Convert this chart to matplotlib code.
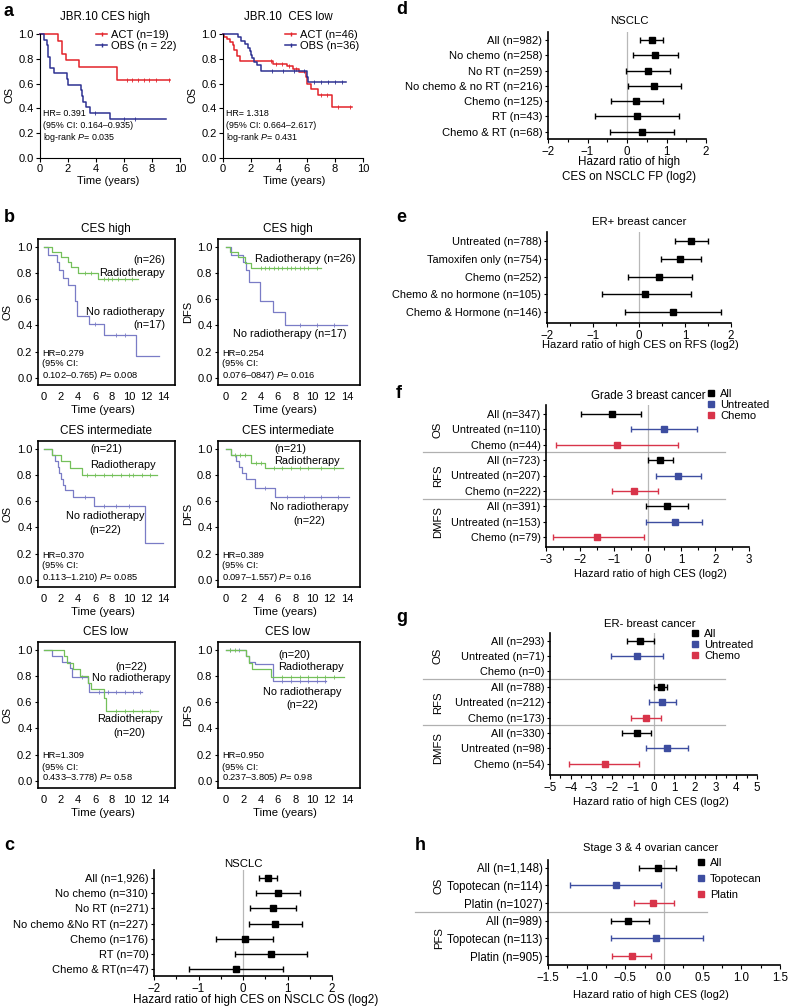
import numpy as np
import matplotlib.pyplot as plt
from matplotlib.lines import Line2D
from matplotlib.transforms import blended_transform_factory

plt.rcParams['font.family'] = ['Liberation Sans', 'DejaVu Sans']
plt.rcParams['mathtext.fontset'] = 'custom'
plt.rcParams['mathtext.rm'] = 'Liberation Sans'
plt.rcParams['mathtext.it'] = 'Liberation Sans:italic'

# ---------------- data ----------------
# a: JBR.10 Kaplan-Meier (time, survival after step) + censor times
act_hi_t = [0, 1.3, 1.6, 1.85, 2.8, 5.5, 9.3]
act_hi_s = [1.0, 0.947, 0.842, 0.789, 0.737, 0.63, 0.63]
act_hi_c = [6.2, 6.6, 7.0, 7.4, 7.8, 8.3, 9.2]
obs_hi_t = [0, 0.3, 0.5, 0.6, 0.7, 1.0, 1.9, 2.0, 2.9, 3.0, 3.1, 3.3, 3.6, 5.0, 9.0]
obs_hi_s = [1.0, 0.955, 0.909, 0.818, 0.727, 0.682, 0.636, 0.591, 0.545, 0.5, 0.455, 0.409,
            0.364, 0.318, 0.318]
obs_hi_c = [3.9, 6.0, 6.8]

act_lo_t = [0, 0.1, 0.3, 0.5, 0.7, 0.8, 1.0, 1.2, 3.6, 4.6, 5.0, 5.4, 5.9, 6.0, 6.3, 6.8, 7.8, 9.2]
act_lo_s = [1.0, 0.978, 0.957, 0.935, 0.913, 0.870, 0.826, 0.783, 0.761, 0.739, 0.717, 0.696,
            0.65, 0.60, 0.56, 0.51, 0.41, 0.41]
act_lo_c = [3.4, 3.8, 4.2, 4.7, 5.2, 7.0, 7.4, 8.2, 9.1]
obs_lo_t = [0, 1.1, 1.3, 1.6, 1.8, 1.9, 2.0, 2.1, 2.2, 2.4, 2.7, 6.0, 6.1, 8.8]
obs_lo_s = [1.0, 0.972, 0.944, 0.917, 0.889, 0.861, 0.833, 0.806, 0.778, 0.75, 0.70, 0.65, 0.61, 0.61]
obs_lo_c = [3.5, 4.3, 5.1, 5.8, 6.5, 7.0, 7.5, 8.0, 8.5]

# b: radiotherapy KM curves (rt = radiotherapy, nrt = no radiotherapy)
rt_os_hi_t = [0, 1.0, 2.0, 2.8, 3.2, 4.0, 6.4, 11.0]
rt_os_hi_s = [1.0, 0.962, 0.923, 0.885, 0.846, 0.80, 0.755, 0.755]
rt_os_hi_c = [4.8, 5.5, 7.0, 7.5, 8.0, 8.7, 9.5, 10.3]
nrt_os_hi_t = [0, 0.5, 1.5, 1.8, 2.2, 2.8, 3.6, 3.9, 5.3, 7.0, 10.8, 13.5]
nrt_os_hi_s = [1.0, 0.941, 0.882, 0.824, 0.765, 0.706, 0.588, 0.471, 0.412, 0.33, 0.165, 0.165]
nrt_os_hi_c = [6.0, 8.5, 9.5]

rt_dfs_hi_t = [0, 0.5, 1.4, 2.2, 2.9, 11.0]
rt_dfs_hi_s = [1.0, 0.96, 0.92, 0.88, 0.84, 0.84]
rt_dfs_hi_c = [4.0, 4.5, 5.0, 5.5, 6.0, 6.5, 7.0, 7.5, 8.0, 8.5, 9.0, 9.5, 10.5]
nrt_dfs_hi_t = [0, 0.6, 2.0, 2.3, 2.6, 3.9, 5.4, 6.8, 14.0]
nrt_dfs_hi_s = [1.0, 0.941, 0.882, 0.824, 0.735, 0.59, 0.50, 0.40, 0.40]
nrt_dfs_hi_c = [8.5, 10.5, 12.5]

rt_os_mid_t = [0, 0.9, 2.0, 3.1, 4.5, 13.3]
rt_os_mid_s = [1.0, 0.952, 0.905, 0.857, 0.80, 0.80]
rt_os_mid_c = [5, 6, 7, 8, 9, 10, 10.5, 11.5, 12.5]
nrt_os_mid_t = [0, 0.9, 1.3, 1.6, 1.8, 2.0, 2.2, 2.5, 3.4, 5.9, 11.9, 14.0]
nrt_os_mid_s = [1.0, 0.955, 0.909, 0.864, 0.818, 0.773, 0.727, 0.682, 0.636, 0.565, 0.28, 0.28]
nrt_os_mid_c = [4.8, 7.0, 8.5, 10.0]

rt_dfs_mid_t = [0, 0.6, 2.9, 4.5, 13.5]
rt_dfs_mid_s = [1.0, 0.952, 0.895, 0.85, 0.85]
rt_dfs_mid_c = [1.0, 1.6, 2.2, 3.5, 4.0, 5.5, 6.5, 7.5, 8.5, 9.5, 11, 12.5]
nrt_dfs_mid_t = [0, 0.6, 1.1, 1.5, 1.8, 2.3, 3.3, 5.7, 14.2]
nrt_dfs_mid_s = [1.0, 0.955, 0.909, 0.864, 0.818, 0.773, 0.70, 0.636, 0.636]
nrt_dfs_mid_c = [4.5, 7.0, 9.0, 11.0, 13.0]

rt_os_lo_t = [0, 2.4, 2.7, 3.4, 4.2, 5.2, 5.5, 7.0, 7.3, 13.4]
rt_os_lo_s = [1.0, 0.95, 0.90, 0.85, 0.80, 0.75, 0.70, 0.63, 0.53, 0.53]
rt_os_lo_c = [8.5, 9.5, 10.5, 11.5, 12.5]
nrt_os_lo_t = [0, 1.0, 2.1, 3.1, 3.3, 5.2, 5.3, 11.5]
nrt_os_lo_s = [1.0, 0.955, 0.909, 0.864, 0.795, 0.75, 0.68, 0.68]
nrt_os_lo_c = [4.5, 6.5, 7.5, 8.5, 9.5, 10.5, 11.3]

rt_dfs_lo_t = [0, 2.3, 2.6, 3.0, 5.2, 13.7]
rt_dfs_lo_s = [1.0, 0.95, 0.90, 0.85, 0.79, 0.79]
rt_dfs_lo_c = [0.5, 1.0, 6.5, 7.5, 8.5, 9.5, 10.5, 11.5, 12.5]
nrt_dfs_lo_t = [0, 2.3, 2.7, 3.3, 5.4, 11.6]
nrt_dfs_lo_s = [1.0, 0.955, 0.909, 0.89, 0.76, 0.76]
nrt_dfs_lo_c = [0.5, 1.5, 6.5, 7.5, 8.5, 9.5, 10.5, 11.5]

# c-h: forest plots, log2 hazard ratio and 95% CI
c_labels = ['All (n=1,926)', 'No chemo (n=310)', 'No RT (n=271)', 'No chemo &No RT (n=227)',
            'Chemo (n=176)', 'RT (n=70)', 'Chemo & RT(n=47)']
c_hr = [0.57, 0.78, 0.68, 0.73, 0.05, 0.63, -0.16]
c_lo = [0.37, 0.29, 0.15, 0.13, -0.61, -0.17, -1.22]
c_hi = [0.77, 1.29, 1.20, 1.32, 0.68, 1.43, 0.89]

d_labels = ['All (n=982)', 'No chemo (n=258)', 'No RT (n=259)', 'No chemo & no RT (n=216)',
            'Chemo (n=125)', 'RT (n=43)', 'Chemo & RT (n=68)']
d_hr = [0.64, 0.72, 0.53, 0.69, 0.24, 0.26, 0.38]
d_lo = [0.34, 0.15, -0.03, 0.03, -0.40, -0.80, -0.43]
d_hi = [0.92, 1.29, 1.10, 1.36, 0.90, 1.32, 1.19]

e_labels = ['Untreated (n=788)', 'Tamoxifen only (n=754)', 'Chemo (n=252)',
            'Chemo & no hormone (n=105)', 'Chemo & Hormone (n=146)']
e_hr = [1.13, 0.89, 0.44, 0.14, 0.73]
e_lo = [0.78, 0.47, -0.25, -0.81, -0.30]
e_hi = [1.49, 1.34, 1.16, 1.12, 1.78]

f_labels = ['All (n=347)', 'Untreated (n=110)', 'Chemo (n=44)', 'All (n=723)', 'Untreated (n=207)',
            'Chemo (n=222)', 'All (n=391)', 'Untreated (n=153)', 'Chemo (n=79)']
f_hr = [-1.06, 0.49, -0.89, 0.38, 0.91, -0.39, 0.58, 0.80, -1.48]
f_lo = [-1.97, -0.50, -2.70, 0.00, 0.25, -1.06, -0.03, -0.03, -2.80]
f_hi = [-0.20, 1.47, 0.91, 0.76, 1.58, 0.30, 1.19, 1.62, -0.10]

g_labels = ['All (n=293)', 'Untreated (n=71)', 'Chemo (n=0)', 'All (n=788)', 'Untreated (n=212)',
            'Chemo (n=173)', 'All (n=330)', 'Untreated (n=98)', 'Chemo (n=54)']
g_hr = [-0.66, -0.79, np.nan, 0.34, 0.43, -0.37, -0.82, 0.63, -2.33]
g_lo = [-1.30, -2.03, np.nan, 0.03, -0.21, -1.09, -1.50, -0.37, -4.07]
g_hi = [0.00, 0.47, np.nan, 0.66, 1.11, 0.34, -0.13, 1.66, -0.72]

h_labels = ['All (n=1,148)', 'Topotecan (n=114)', 'Platin (n=1027)', 'All (n=989)',
            'Topotecan (n=113)', 'Platin (n=905)']
h_hr = [-0.08, -0.62, -0.14, -0.46, -0.10, -0.41]
h_lo = [-0.32, -1.22, -0.39, -0.68, -0.68, -0.67]
h_hi = [0.16, -0.04, 0.13, -0.20, 0.51, -0.17]

# ---------------- figure ----------------
W, H = 788, 1008
fig = plt.figure(figsize=(W / 100, H / 100), dpi=100)

RED, NAVY = '#e3232a', '#2e3192'
GREEN, LAV = '#74c05a', '#7a7cc6'
BLK, BLUE, PINK = '#000000', '#3d4da0', '#d8344a'


def px_ax(l, t, r, b):
    return fig.add_axes([l / W, 1 - b / H, (r - l) / W, (b - t) / H])


def txt(x, y, s, size=7.5, ha='center', **kw):
    fig.text(x / W, 1 - y / H, s, fontsize=size, ha=ha, va='center', **kw)


def minus(v, fmt):
    return (fmt % v).replace('-', '\u2212')


def km(ax, t, s, cens, color, lw):
    t = np.asarray(t, float)
    s = np.asarray(s, float)
    ax.step(t, s, where='post', color=color, lw=lw, clip_on=False)
    idx = np.searchsorted(t, cens, side='right') - 1
    ax.plot(cens, s[idx], ls='none', marker='|', color=color, ms=2.5, mew=0.6, clip_on=False)


# ---- panel a ----
for (l, r, title, curves, leg, hrtxt, lx) in [
        (40, 180, 'JBR.10 CES high',
         [(act_hi_t, act_hi_s, act_hi_c, RED), (obs_hi_t, obs_hi_s, obs_hi_c, NAVY)],
         ['ACT (n=19)', 'OBS (n = 22)'],
         ['HR= 0.391', '(95% CI: 0.164\u20130.935)', 'log-rank $P$= 0.035'], 108),
        (223, 363, 'JBR.10  CES low',
         [(act_lo_t, act_lo_s, act_lo_c, RED), (obs_lo_t, obs_lo_s, obs_lo_c, NAVY)],
         ['ACT (n=46)', 'OBS (n=36)'],
         ['HR= 1.318', '(95% CI: 0.664\u20132.617)', 'log-rank $P$= 0.431'], 294)]:
    ax = px_ax(l, 31.5, r, 158)
    for t, s, c, col in curves:
        km(ax, t, s, c, col, 1.1)
    ax.set_xlim(0, 10)
    ax.set_ylim(0, 1.02)
    for sp in ['top', 'right']:
        ax.spines[sp].set_visible(False)
    ax.spines['left'].set_bounds(0, 1)
    ax.set_xticks(np.arange(0, 11, 2))
    ax.set_yticks(np.arange(0, 1.01, 0.2), [f'{v:.1f}' for v in np.arange(0, 1.01, 0.2)])
    ax.tick_params(labelsize=8, length=3, width=0.8, pad=1.5)
    ax.set_ylabel('OS', fontsize=8, labelpad=3)
    handles = [Line2D([], [], color=RED, lw=1.1, marker='|', ms=2.5),
               Line2D([], [], color=NAVY, lw=1.1, marker='|', ms=2.5)]
    ax.legend(handles, leg, loc='upper right', bbox_to_anchor=((r - 4) / W, 1 - 30 / H),
              bbox_transform=fig.transFigure, frameon=False, fontsize=8, handlelength=1.0,
              handletextpad=0.3, labelspacing=0.05, borderpad=0, borderaxespad=0)
    for k, line in enumerate(hrtxt):
        txt(l + 3, [113, 125, 137][k], line, size=6.4, ha='left')
    txt((l + r) / 2 - 5, 17, title, size=8.3)
    txt(lx, 181, 'Time (years)', size=8)

# ---- panel b ----
b_cols = [(38, 175, -0.7, 15.4, 'OS'), (218, 360, -0.93, 15.5, 'DFS')]
b_tops = [239, 441, 642]
b_titles = ['CES high', 'CES intermediate', 'CES low']
b_curves = [
    [(rt_os_hi_t, rt_os_hi_s, rt_os_hi_c, nrt_os_hi_t, nrt_os_hi_s, nrt_os_hi_c),
     (rt_dfs_hi_t, rt_dfs_hi_s, rt_dfs_hi_c, nrt_dfs_hi_t, nrt_dfs_hi_s, nrt_dfs_hi_c)],
    [(rt_os_mid_t, rt_os_mid_s, rt_os_mid_c, nrt_os_mid_t, nrt_os_mid_s, nrt_os_mid_c),
     (rt_dfs_mid_t, rt_dfs_mid_s, rt_dfs_mid_c, nrt_dfs_mid_t, nrt_dfs_mid_s, nrt_dfs_mid_c)],
    [(rt_os_lo_t, rt_os_lo_s, rt_os_lo_c, nrt_os_lo_t, nrt_os_lo_s, nrt_os_lo_c),
     (rt_dfs_lo_t, rt_dfs_lo_s, rt_dfs_lo_c, nrt_dfs_lo_t, nrt_dfs_lo_s, nrt_dfs_lo_c)]]
b_hr = [[('HR=0.279', '(95% CI:', '0.102\u20130.765) $P$= 0.008'),
         ('HR=0.254', '(95% CI:', '0.076\u20130847) $P$= 0.016')],
        [('HR=0.370', '(95% CI:', '0.113\u20131.210) $P$= 0.085'),
         ('HR=0.389', '(95% CI:', '0.097\u20131.557) $P$= 0.16')],
        [('HR=1.309', '(95% CI:', '0.433\u20133.778) $P$= 0.58'),
         ('HR=0.950', '(95% CI:', '0.237\u20133.805) $P$= 0.98')]]

for ri, top in enumerate(b_tops):
    for ci, (l, r, x0, x1, ylab) in enumerate(b_cols):
        ax = px_ax(l, top, r, top + 146)
        rt_t, rt_s, rt_c, nrt_t, nrt_s, nrt_c = b_curves[ri][ci]
        km(ax, nrt_t, nrt_s, nrt_c, LAV, 0.9)
        km(ax, rt_t, rt_s, rt_c, GREEN, 0.9)
        ax.set_xlim(x0, x1)
        ax.set_ylim(-0.055, 1.06)
        for sp in ax.spines.values():
            sp.set_linewidth(1.2)
        ax.set_xticks(np.arange(0, 15, 2))
        ax.set_yticks(np.arange(0, 1.01, 0.2), [f'{v:.1f}' for v in np.arange(0, 1.01, 0.2)])
        ax.tick_params(axis='x', length=0, pad=5, labelsize=8)
        ax.tick_params(axis='y', length=2.5, width=0.8, pad=1.5, labelsize=8)
        ax.set_ylabel(ylab, fontsize=8, labelpad=3)
        cx = (l + r) / 2
        txt(cx - 1, top - 10, b_titles[ri], size=8.5)
        txt(cx - 4, top + 171, 'Time (years)', size=8.2)
        for k, line in enumerate(b_hr[ri][ci]):
            txt(l + 4, top + 114 + 11 * k, line, size=6.7, ha='left')

# annotations on the KM curves
fs = 7.9
txt(165, 260, '(n=26)', fs, ha='right'); txt(165, 273, 'Radiotherapy', fs, ha='right')
txt(165, 312, 'No radiotherapy', fs, ha='right'); txt(165, 325, '(n=17)', fs, ha='right')
txt(255, 259, 'Radiotherapy (n=26)', fs, ha='left'); txt(233, 334, 'No radiotherapy (n=17)', fs, ha='left')
txt(106, 449, '(n=21)', fs); txt(123, 465, 'Radiotherapy', fs)
txt(105, 516, 'No radiotherapy', fs); txt(105, 530, '(n=22)', fs)
txt(290, 449, '(n=21)', fs); txt(307, 461, 'Radiotherapy', fs)
txt(309, 507, 'No radiotherapy', fs); txt(309, 521, '(n=22)', fs)
txt(131, 667, '(n=22)', fs); txt(131, 678, 'No radiotherapy', fs)
txt(130, 719, 'Radiotherapy', fs); txt(129, 733, '(n=20)', fs)
txt(294, 655, '(n=20)', fs); txt(311, 667, 'Radiotherapy', fs)
txt(302, 692, 'No radiotherapy', fs); txt(302, 705, '(n=22)', fs)


# ---- forest plots ----
def forest(rect, rows_px, labels, hr, lo, hi, colors, xlim, major, minor, fmt, lsize):
    l, t, r, b = rect
    n = len(labels)
    step = (rows_px[1] - rows_px[0]) / (n - 1)
    ax = px_ax(l, t, r, b)
    y = np.arange(n)[::-1].astype(float)
    ax.set_ylim(-(b - rows_px[1]) / step, n - 1 + (rows_px[0] - t) / step)
    ax.set_xlim(*xlim)
    ax.axvline(0, color='#b8b8b8', lw=0.9, zorder=0)
    for i in range(n):
        if np.isnan(hr[i]):
            continue
        ax.errorbar(hr[i], y[i], xerr=[[hr[i] - lo[i]], [hi[i] - hr[i]]], fmt='s',
                    color=colors[i], ms=4.5, lw=1, capsize=2.2, capthick=1)
    ax.set_yticks(y, labels)
    ax.set_xticks(major, [minus(v, fmt) for v in major])
    ax.set_xticks(minor, minor=True)
    for sp in ['top', 'right']:
        ax.spines[sp].set_visible(False)
    for sp in ['left', 'bottom']:
        ax.spines[sp].set_linewidth(1.2)
    ax.tick_params(axis='y', length=2, width=0.8, pad=2, labelsize=lsize)
    ax.tick_params(axis='x', which='major', length=3, width=0.8, pad=2, labelsize=8.3)
    ax.tick_params(axis='x', which='minor', length=2, width=0.8)
    return ax, y


def groups(ax, y, names, x_lab, sep_x):
    tr = blended_transform_factory(fig.transFigure, ax.transData)
    for g, name in enumerate(names):
        yy = y[3 * g:3 * g + 3]
        ax.text(x_lab / W, yy.mean(), name, rotation=90, transform=tr, ha='center',
                va='center', fontsize=8.2)
        if g > 0:
            ax.plot([sep_x[0] / W, sep_x[1] / W], [yy[0] + 0.5] * 2, transform=tr,
                    color='#b0b0b0', lw=0.9, clip_on=False)


def legend(ax, names, cols, x, y, spacing):
    hs = [Line2D([], [], marker='s', ls='none', color=c, ms=4.5) for c in cols]
    ax.legend(hs, names, loc='upper left', bbox_to_anchor=(x / W, 1 - y / H),
              bbox_transform=fig.transFigure, frameon=False, fontsize=8, handlelength=0.6,
              handletextpad=0.5, labelspacing=spacing, borderpad=0, borderaxespad=0)


tri = [BLK, BLUE, PINK] * 3

# c
forest((154, 870, 332, 976), (878, 969), c_labels, c_hr, c_lo, c_hi, [BLK] * 7, (-2, 2),
       np.arange(-2, 3, 1.0), np.arange(-1.5, 2, 1.0), '%d', 8.0)
txt(243, 864, 'NSCLC', 8.2)
txt(256, 1000, 'Hazard ratio of high CES on NSCLC OS (log2)', 8.6)

# d
forest((548, 32, 706, 139), (40, 131.7), d_labels, d_hr, d_lo, d_hi, [BLK] * 7, (-2, 2),
       np.arange(-2, 3, 1.0), np.arange(-1.5, 2, 1.0), '%d', 8.1)
txt(629, 21, 'NSCLC', 8.2)
txt(629, 162, 'Hazard ratio of high', 8.4)
txt(629, 177, 'CES on NSCLC FP (log2)', 8.4)

# e
forest((547, 232, 731, 323), (241, 312.3), e_labels, e_hr, e_lo, e_hi, [BLK] * 5, (-2, 2),
       np.arange(-2, 3, 1.0), np.arange(-1.5, 2, 1.0), '%d', 7.9)
txt(639, 222, 'ER+ breast cancer', 8.2)
txt(640, 345, 'Hazard ratio of high CES on RFS (log2)', 8.0)

# f
ax, y = forest((546, 405, 749, 547), (414, 537), f_labels, f_hr, f_lo, f_hi, tri, (-3, 3),
               np.arange(-3, 4, 1.0), np.arange(-2.5, 3, 1.0), '%d', 7.8)
groups(ax, y, ['OS', 'RFS', 'DMFS'], 438, (423, 725))
legend(ax, ['All', 'Untreated', 'Chemo'], [BLK, BLUE, PINK], 708, 389, 0.1)
txt(648, 396, 'Grade 3 breast cancer', 8.3)
txt(650, 574, 'Hazard ratio of high CES (log2)', 7.9)

# g
ax, y = forest((550, 633, 757, 775), (640.7, 763.7), g_labels, g_hr, g_lo, g_hi, tri, (-5, 5),
               np.arange(-5, 6, 1.0), np.arange(-4.5, 5, 1.0), '%d', 7.9)
groups(ax, y, ['OS', 'RFS', 'DMFS'], 438, (423, 725))
legend(ax, ['All', 'Untreated', 'Chemo'], [BLK, BLUE, PINK], 692, 629, 0.1)
txt(650, 624, 'ER- breast cancer', 8.2)
txt(651, 802, 'Hazard ratio of high CES (log2)', 8.0)

# h
ax, y = forest((548, 860, 780, 965), (867.7, 956), h_labels, h_hr, h_lo, h_hi, tri[:6],
               (-1.5, 1.5), np.arange(-1.5, 1.6, 0.5), np.arange(-1.25, 1.5, 0.5), '%.1f', 8.3)
tr = blended_transform_factory(fig.transFigure, ax.transData)
for g, name in enumerate(['OS', 'PFS']):
    ax.text(439 / W, y[3 * g:3 * g + 3].mean(), name, rotation=90, transform=tr,
            ha='center', va='center', fontsize=8.2)
ax.plot([415 / W, 707 / W], [y[3] + 0.5] * 2, transform=tr, color='#b0b0b0', lw=0.9,
        clip_on=False)
legend(ax, ['All', 'Topotecan', 'Platin'], [BLK, BLUE, PINK], 698, 858, 0.55)
txt(651, 848, 'Stage 3 & 4 ovarian cancer', 8.0)
txt(651, 995, 'Hazard ratio of high CES (log2)', 8.0)

# panel letters
for s, x, y0 in [('a', 4, 11), ('b', 4, 217), ('c', 4, 845), ('d', 396, 10),
                 ('e', 396, 217), ('f', 396, 393), ('g', 396, 617), ('h', 415, 845)]:
    txt(x, y0, s, size=13, ha='left', fontweight='bold')

fig.savefig('out.png', dpi=100)
